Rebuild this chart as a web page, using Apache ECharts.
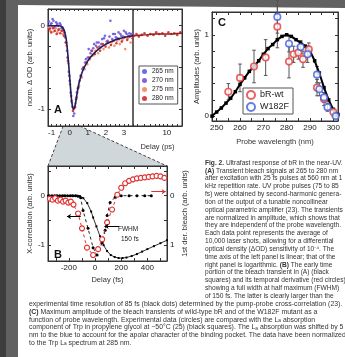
<!DOCTYPE html>
<html><head><meta charset="utf-8">
<script src="https://cdn.jsdelivr.net/npm/echarts@6/dist/echarts.min.js"></script>
<style>html,body{margin:0;padding:0;background:#5f5f5f;}#c{width:345px;height:357px;}</style>
</head><body><div id="c"></div>
<script>
// ---------- Panel A data (delay ps, norm ΔOD) ----------
const a265 = [[-1.15,0.05],[-1.05,0.02],[-0.95,0.08],[-0.85,-0.02],[-0.75,0.04],[-0.65,0.0],[-0.55,0.03],[-0.45,-0.03],[-0.35,-0.05],[-0.25,-0.14],[-0.15,-0.3],[-0.05,-0.55],[0.05,-0.8],[0.15,-0.97],[0.25,-1.05],[0.35,-0.88],[0.45,-0.75],[0.6,-0.6],[0.75,-0.5],[0.9,-0.4],[1.05,-0.28],[1.2,-0.3],[1.35,-0.22],[1.5,-0.2],[1.65,-0.25],[1.8,-0.16],[1.95,-0.12],[2.1,-0.18],[2.25,0.06],[2.4,-0.1],[2.55,-0.14],[2.7,-0.08],[2.85,-0.12],[3.0,-0.06],[3.15,-0.1],[3.3,-0.09],[3.45,-0.12]];
const a270 = [[-1.2,0.0],[-1.1,-0.03],[-1.0,0.03],[-0.9,0.06],[-0.8,-0.01],[-0.7,0.02],[-0.6,-0.04],[-0.5,0.01],[-0.4,-0.02],[-0.3,-0.08],[-0.2,-0.2],[-0.1,-0.42],[0.0,-0.66],[0.1,-0.9],[0.2,-1.08],[0.3,-0.97],[0.4,-0.8],[0.55,-0.66],[0.7,-0.52],[0.85,-0.44],[1.0,-0.38],[1.15,-0.33],[1.3,-0.27],[1.45,-0.24],[1.6,-0.2],[1.75,-0.22],[1.9,-0.15],[2.05,-0.19],[2.2,-0.13],[2.35,-0.16],[2.5,-0.1],[2.65,-0.15],[2.8,-0.1],[2.95,-0.13],[3.1,-0.08],[3.25,-0.12],[3.4,-0.1]];
const a275 = [[-1.18,-0.02],[-1.08,-0.06],[-0.98,-0.01],[-0.88,-0.07],[-0.78,-0.03],[-0.68,-0.08],[-0.58,-0.04],[-0.48,-0.06],[-0.38,-0.1],[-0.28,-0.12],[-0.18,-0.24],[-0.08,-0.45],[0.02,-0.7],[0.12,-0.92],[0.22,-1.0],[0.32,-0.93],[0.42,-0.8],[0.52,-0.72],[0.67,-0.62],[0.82,-0.52],[0.97,-0.46],[1.12,-0.4],[1.27,-0.36],[1.42,-0.3],[1.57,-0.33],[1.72,-0.26],[1.87,-0.28],[2.02,-0.22],[2.17,-0.26],[2.32,-0.2],[2.47,-0.24],[2.62,-0.18],[2.77,-0.22],[2.92,-0.17],[3.07,-0.28],[3.22,-0.15],[3.37,-0.2]];
const a280 = [[-1.12,-0.04],[-1.02,-0.08],[-0.92,-0.03],[-0.82,-0.06],[-0.72,-0.1],[-0.62,-0.05],[-0.52,-0.09],[-0.42,-0.06],[-0.32,-0.12],[-0.22,-0.2],[-0.12,-0.38],[-0.02,-0.6],[0.08,-0.84],[0.18,-1.02],[0.28,-0.98],[0.38,-0.86],[0.48,-0.74],[0.63,-0.6],[0.78,-0.5],[0.93,-0.44],[1.08,-0.38],[1.23,-0.3],[1.38,-0.34],[1.53,-0.26],[1.68,-0.3],[1.83,-0.22],[1.98,-0.25],[2.13,-0.2],[2.28,-0.23],[2.43,-0.18],[2.58,-0.21],[2.73,-0.16],[2.88,-0.19],[3.03,-0.14],[3.18,-0.17],[3.33,-0.13],[3.48,-0.15]];
const a280log = [[3.6,-0.12],[3.9,-0.1],[4.2,-0.13],[4.6,-0.11],[5.0,-0.09],[5.5,-0.12],[6.0,-0.1],[6.6,-0.11],[7.2,-0.08],[7.9,-0.1],[8.7,-0.09],[9.5,-0.12],[10.5,-0.08],[11.5,-0.1],[12.6,-0.09],[13.8,-0.11],[15.2,-0.08]];
const aFitLin = [[-1.2,0],[-0.6,0],[-0.4,-0.02],[-0.3,-0.06],[-0.2,-0.15],[-0.1,-0.35],[0,-0.62],[0.1,-0.88],[0.2,-1.0],[0.3,-0.95],[0.4,-0.82],[0.5,-0.7],[0.7,-0.55],[1.0,-0.42],[1.3,-0.34],[1.6,-0.28],[2.0,-0.22],[2.5,-0.17],[3.0,-0.14],[3.5,-0.12]];
const aFitLog = [[3.5,-0.12],[5,-0.11],[7,-0.1],[10,-0.1],[16,-0.09]];
const aLegend = ['265 nm','270 nm','275 nm','280 nm'];
const aXLabels = [-1,0,1,2,3];
const aLogLabels = [10];
const aYLabels = [-1,0];

// ---------- Panel B data (delay fs) ----------
const bXcorr = [[-350,0],[-330,0],[-310,0],[-290,0],[-270,0],[-250,0],[-230,0],[-210,0],[-190,0],[-170,0],[-150,0],[-130,-0.01],[-110,-0.04],[-92,-0.3],[-54,-0.66],[-15,-1.05],[15,-1.2],[54,-0.95],[77,-0.7],[92,-0.4],[115,-0.14],[154,-0.03],[200,0],[260,0],[320,0],[380,0],[430,0]];
const bBleach = [[-360,0],[-300,0],[-240,0],[-180,0],[-140,0],[-115,-0.01],[-90,-0.05],[-60,-0.15],[-30,-0.32],[-15,-0.44],[10,-0.62],[38,-0.82],[65,-1.0],[92,-1.12],[120,-1.2],[150,-1.24],[180,-1.26],[210,-1.26],[240,-1.25],[280,-1.22],[320,-1.18],[360,-1.13],[400,-1.08],[450,-1.02],[500,-0.96],[550,-0.9]];
// derivative, right axis (inverted)
const bDeriv = [[-345,0.06],[-325,0.08],[-305,0.05],[-285,0.1],[-265,0.08],[-245,0.12],[-225,0.1],[-205,0.14],[-185,0.12],[-165,0.18],[-130,0.36],[-100,0.66],[-62,1.05],[-15,1.2],[23,1.08],[54,0.88],[92,0.54],[130,0.28],[170,-0.02],[200,-0.16],[230,-0.25],[260,-0.3],[290,-0.33],[320,-0.35],[350,-0.36],[380,-0.37],[410,-0.38],[440,-0.39],[470,-0.4],[500,-0.39],[530,-0.36]];
const bXLabels = [-200,0,200,400];
const bYLeftLabels = [-1,0];
const bYRightLabels = [0,1];

// ---------- Panel C data ----------
const cWl = [248,250,252,254,256,258,260,262,264,266,268,270,272,274,276,278,280,282,284,286,288,290,292,294,296,298,300,302];
const cCurve = [0.0,0.05,0.1,0.16,0.22,0.3,0.39,0.47,0.55,0.61,0.68,0.76,0.83,0.88,0.94,0.98,1.0,0.98,0.94,0.9,0.86,0.8,0.68,0.53,0.35,0.2,0.08,0.02];
const cWtX = [255,260,266,271,276,281,283,285,287,289.5,293,296,300];
const cWtY = [0.30,0.47,0.61,0.72,1.10,0.67,0.76,0.78,0.70,0.82,0.35,0.21,0.05];
const cWtErr = [0.1,0.17,0.2,0.22,0.26,0.2,0.1,0.08,0.1,0.08,0.1,0.08,0.05];
const cMutX = [276,281,286,289,293,294,296,297.5,301];
const cMutY = [1.22,0.89,0.85,0.76,0.51,0.33,0.23,0.11,0.0];
const cMutErr = [0.2,0.1,0.08,0.1,0.1,0.08,0.06,0.05,0.03];
const cXLabels = [250,260,270,280,290,300];
const cYLabels = [0,1];

// ---------- Caption ----------
const captionRight = [
'{b|Fig. 2.} Ultrafast response of bR in the near-UV.',
'{b|(A)} Transient bleach signals at 265 to 280 nm',
'after excitation with 25 fs pulses at 560 nm at 1',
'kHz repetition rate. UV probe pulses (75 to 85',
'fs) were obtained by second-harmonic genera-',
'tion of the output of a tunable noncollinear',
'optical parametric amplifier (23). The transients',
'are normalized in amplitude, which shows that',
'they are independent of the probe wavelength.',
'Each data point represents the average of',
'10,000 laser shots, allowing for a differential',
'optical density (ΔOD) sensitivity of 10⁻⁴. The',
'time axis of the left panel is linear; that of the',
'right panel is logarithmic. {b|(B)} The early time',
'portion of the bleach transient in (A) (black',
'squares) and its temporal derivative (red circles),',
'showing a full width at half maximum (FWHM)',
'of 150 fs. The latter is clearly larger than the'
];
const captionFull = [
'experimental time resolution of 85 fs (black dots) determined by the pump-probe cross-correlation (23).',
'{b|(C)} Maximum amplitude of the bleach transients of wild-type bR and of the W182F mutant as a',
'function of probe wavelength. Experimental data (circles) are compared with the L{s|a} absorption',
'component of Trp in propylene glycol at −50°C (25) (black squares). The L{s|a} absorption was shifted by 5',
'nm to the blue to account for the apolar character of the binding pocket. The data have been normalized',
'to the Trp L{s|a} spectrum at 285 nm.'
];

const FONT = 'Liberation Sans';
const CAP_R = 6.6, CAP_F = 6.9;
const LOG = v => Math.log10(v);

function range(a, b, s){ const r=[]; for(let v=a; v<=b+1e-9; v+=s) r.push(+v.toFixed(4)); return r; }

function ax(o){
  return {
    type:'value', gridIndex:o.grid, position:o.pos, min:o.min, max:o.max, inverse:!!o.inverse,
    name:o.name||'', nameLocation:'middle', nameGap:o.nameGap||0,
    nameRotate:o.nameRotate,
    nameTextStyle:{fontSize:7.5,color:'#333',fontFamily:FONT},
    axisLine:{show:true,onZero:false,lineStyle:{color:'#333',width:1}},
    axisTick:{show:true,inside:true,length:o.tickLen||3,customValues:o.ticks,lineStyle:{color:'#333',width:1}},
    axisLabel:o.labels?{show:true,customValues:o.labels,fontSize:8,color:'#222',margin:3,fontFamily:FONT,formatter:o.fmt}:{show:false},
    splitLine:{show:false}
  };
}

const gridStyle = {show:true,borderColor:'#333',borderWidth:1,backgroundColor:'transparent',outerBoundsMode:'none'};

const xAxes = [
  ax({grid:0,pos:'bottom',min:-1.2,max:3.5,labels:aXLabels,ticks:range(-1,3.5,0.25),tickLen:2}),
  ax({grid:0,pos:'top',min:-1.2,max:3.5,ticks:range(-1,3.5,0.25),tickLen:2}),
  ax({grid:1,pos:'bottom',min:LOG(3.5),max:LOG(16),labels:aLogLabels.map(LOG),ticks:[4,5,6,7,8,9,10,12,14].map(LOG),
      fmt:v=>String(Math.round(Math.pow(10,v))),name:'Delay (ps)',nameGap:17,tickLen:2}),
  ax({grid:1,pos:'top',min:LOG(3.5),max:LOG(16),ticks:[4,5,6,7,8,9,10,12,14].map(LOG),tickLen:2}),
  ax({grid:2,pos:'bottom',min:-360,max:550,labels:bXLabels,ticks:range(-300,500,100),name:'Delay (fs)',nameGap:15}),
  ax({grid:2,pos:'top',min:-360,max:550,ticks:range(-300,500,100)}),
  ax({grid:3,pos:'bottom',min:248,max:302,labels:cXLabels,ticks:range(250,300,5),name:'Probe wavelength (nm)',nameGap:17}),
  ax({grid:3,pos:'top',min:248,max:302,ticks:range(250,300,5)})
];
const yAxes = [
  ax({grid:0,pos:'left',min:-1.2,max:0.2,labels:aYLabels,ticks:range(-1,0,0.25),name:'norm. Δ OD (arb. units)',nameGap:13}),
  ax({grid:1,pos:'right',min:-1.2,max:0.2,ticks:range(-1,0,0.25)}),
  ax({grid:2,pos:'left',min:-1.32,max:0.6,labels:bYLeftLabels,ticks:range(-1,0.5,0.5),name:'X-correlation (arb. units)',nameGap:11}),
  ax({grid:2,pos:'right',min:-0.6,max:1.32,inverse:true,labels:bYRightLabels,ticks:range(-0.5,1,0.5),name:'1st der. bleach (arb. units)',nameGap:14,nameRotate:90}),
  ax({grid:3,pos:'left',min:-0.06,max:1.28,labels:cYLabels,ticks:range(0,1.2,0.2),name:'Amplitudes (arb. units)',nameGap:9}),
  ax({grid:3,pos:'right',min:-0.06,max:1.28,ticks:range(0,1.2,0.2)})
];

function sc(name, data, color, xi, yi){
  return {type:'scatter',name,data,xAxisIndex:xi,yAxisIndex:yi,symbolSize:2.6,itemStyle:{color,opacity:0.9},z:2,silent:true};
}

function errSeries(xs, ys, es){
  return {
    type:'custom', xAxisIndex:6, yAxisIndex:4, z:3, silent:true,
    data: xs.map((x,i)=>[x, ys[i]-es[i], ys[i]+es[i]]),
    encode:{x:0,y:[1,2]},
    renderItem:function(params, api){
      const x=api.value(0), p1=api.coord([x,api.value(1)]), p2=api.coord([x,api.value(2)]), w=1.8;
      const st={stroke:'#555',lineWidth:1};
      return {type:'group',children:[
        {type:'line',shape:{x1:p1[0],y1:p1[1],x2:p2[0],y2:p2[1]},style:st},
        {type:'line',shape:{x1:p1[0]-w,y1:p1[1],x2:p1[0]+w,y2:p1[1]},style:st},
        {type:'line',shape:{x1:p2[0]-w,y1:p2[1],x2:p2[0]+w,y2:p2[1]},style:st}
      ]};
    }
  };
}

const series = [
  sc('265 nm', a265, '#5561e6', 0, 0),
  sc('270 nm', a270, '#7b4fd6', 0, 0),
  sc('275 nm', a275, '#f3875c', 0, 0),
  sc('280 nm', a280, '#d32a2a', 0, 0),
  sc('280 nm', a280log.map(p=>[LOG(p[0]),p[1]]), '#d32a2a', 2, 1),
  {type:'line',data:aFitLin,xAxisIndex:0,yAxisIndex:0,symbol:'none',smooth:0.3,lineStyle:{color:'#1e1e58',width:1.6},z:4,silent:true},
  {type:'line',data:aFitLog.map(p=>[LOG(p[0]),p[1]]),xAxisIndex:2,yAxisIndex:1,symbol:'none',smooth:0.3,lineStyle:{color:'#8c2323',width:1.4},z:4,silent:true},
  // Panel B
  {type:'line',name:'xcorr',data:bXcorr,xAxisIndex:4,yAxisIndex:2,symbol:'circle',symbolSize:3,showAllSymbol:true,
   lineStyle:{color:'#222',type:[3,3],width:1},itemStyle:{color:'#000'},z:3,silent:true},
  {type:'line',name:'bleach',data:bBleach,xAxisIndex:4,yAxisIndex:2,symbol:'rect',symbolSize:2,showAllSymbol:true,
   lineStyle:{color:'#333',width:1},itemStyle:{color:'#000'},z:3,silent:true,
   markLine:{silent:true,symbol:['none','arrow'],symbolSize:4,label:{show:false},lineStyle:{color:'#000',type:'solid',width:1},
     data:[[{coord:[-110,-0.42]},{coord:[-215,-0.42]}],[{coord:[185,-0.62]},{coord:[72,-0.62]}]]}},
  {type:'line',name:'deriv',data:bDeriv,xAxisIndex:4,yAxisIndex:3,symbol:'circle',symbolSize:5,showAllSymbol:true,
   lineStyle:{color:'#e03030',type:[3,3],width:1},itemStyle:{color:'#fff',borderColor:'#e03030',borderWidth:1.1},z:4,silent:true,
   markLine:{silent:true,symbol:['none','arrow'],symbolSize:4,label:{show:false},lineStyle:{color:'#e03030',type:'solid',width:1},
     data:[[{coord:[430,-0.08]},{coord:[540,-0.08]}]]}},
  // Panel C
  {type:'line',data:cWl.map((x,i)=>[x,cCurve[i]]),xAxisIndex:6,yAxisIndex:4,symbol:'rect',symbolSize:3.5,showAllSymbol:true,
   lineStyle:{color:'#000',width:2},itemStyle:{color:'#000'},z:3,silent:true},
  errSeries(cWtX,cWtY,cWtErr),
  errSeries(cMutX,cMutY,cMutErr),
  {type:'scatter',name:'bR-wt',data:cWtX.map((x,i)=>[x,cWtY[i]]),xAxisIndex:6,yAxisIndex:4,symbol:'circle',symbolSize:6.5,
   itemStyle:{color:'#fff',borderColor:'#e23b3b',borderWidth:1.6},z:5,silent:true},
  {type:'scatter',name:'W182F',data:cMutX.map((x,i)=>[x,cMutY[i]]),xAxisIndex:6,yAxisIndex:4,symbol:'circle',symbolSize:6.5,
   itemStyle:{color:'#fff',borderColor:'#3f5fe0',borderWidth:1.6},z:5,silent:true}
];

const chart = echarts.init(document.getElementById('c'), null, {renderer:'canvas'});
chart.setOption({
  animation:false,
  backgroundColor:'#616161',
  textStyle:{fontFamily:FONT},
  grid:[
    Object.assign({left:48,top:9,width:85,height:117},gridStyle),
    Object.assign({left:133,top:9,width:49,height:117},gridStyle),
    Object.assign({left:48,top:166,width:119,height:95},gridStyle),
    Object.assign({left:212,top:12,width:126,height:109},gridStyle)
  ],
  xAxis:xAxes, yAxis:yAxes,
  legend:[
    {data:aLegend,orient:'vertical',left:139,top:66,itemGap:2,itemWidth:5,itemHeight:5,icon:'circle',
     textStyle:{fontSize:6.5,color:'#222',fontFamily:FONT},borderColor:'#555',borderWidth:1,padding:[2,4,2,3],backgroundColor:'#fff',selectedMode:false},
    {data:['bR-wt','W182F'],orient:'vertical',left:243,top:88,itemGap:2,itemWidth:8,itemHeight:8,
     textStyle:{fontSize:9,color:'#222',fontFamily:FONT},borderColor:'#555',borderWidth:1,padding:[2,4,2,3],backgroundColor:'#fff',selectedMode:false}
  ],
  series
});

// decorative / text layer
const g = [];
g.push({type:'rect',shape:{x:0,y:0,width:6,height:357},style:{fill:'#3d3d3d'},z:-20});
g.push({type:'polygon',shape:{points:[[18,5],[345,8],[345,357],[18,357]]},style:{fill:'#ffffff'},z:-10});

// zoom trapezoid from panel A axis to panel B
const pA1 = chart.convertToPixel({xAxisIndex:0,yAxisIndex:0},[-360/1000,-1.2]);
const pA2 = chart.convertToPixel({xAxisIndex:0,yAxisIndex:0},[550/1000,-1.2]);
const pB1 = chart.convertToPixel({xAxisIndex:4,yAxisIndex:2},[-360,0.6]);
const pB2 = chart.convertToPixel({xAxisIndex:4,yAxisIndex:2},[550,0.6]);
g.push({type:'polygon',shape:{points:[pA1,pA2,pB2,pB1]},style:{fill:'#cfd7da'},z:-5});
g.push({type:'line',shape:{x1:pA1[0],y1:pA1[1],x2:pB1[0],y2:pB1[1]},style:{stroke:'#444',lineWidth:1,lineDash:[3,2]},z:-4});
g.push({type:'line',shape:{x1:pA2[0],y1:pA2[1],x2:pB2[0],y2:pB2[1]},style:{stroke:'#444',lineWidth:1,lineDash:[3,2]},z:-4});

// panel letters
const letter = (t,x,y)=>({type:'text',x,y,z:20,style:{text:t,fontSize:11,fontWeight:'bold',fill:'#111',fontFamily:FONT,verticalAlign:'middle'}});
g.push(letter('A',54,110), letter('B',54,255), letter('C',218,23));
// FWHM annotation
g.push({type:'text',x:118,y:229,z:20,style:{text:'FWHM',fontSize:6.5,fill:'#222',fontFamily:FONT,verticalAlign:'middle'}});
g.push({type:'text',x:121,y:239,z:20,style:{text:'150 fs',fontSize:6.5,fill:'#222',fontFamily:FONT,verticalAlign:'middle'}});

const richFor = sz => ({b:{fontWeight:'bold',fontSize:sz,fontFamily:FONT,fill:'#333'},s:{fontSize:4.8,fontFamily:FONT,fill:'#333',verticalAlign:'bottom'}});
const STEP = 7.83;
captionRight.forEach((t,i)=>{
  g.push({type:'text',x:205,y:163+i*STEP,z:20,style:{text:t,fontSize:CAP_R,fill:'#333',fontFamily:FONT,verticalAlign:'middle',rich:richFor(CAP_R)}});
});
captionFull.forEach((t,i)=>{
  g.push({type:'text',x:29,y:163+(captionRight.length+i)*STEP,z:20,style:{text:t,fontSize:CAP_F,fill:'#333',fontFamily:FONT,verticalAlign:'middle',rich:richFor(CAP_F)}});
});
chart.setOption({graphic:{elements:g}});
</script></body></html>
